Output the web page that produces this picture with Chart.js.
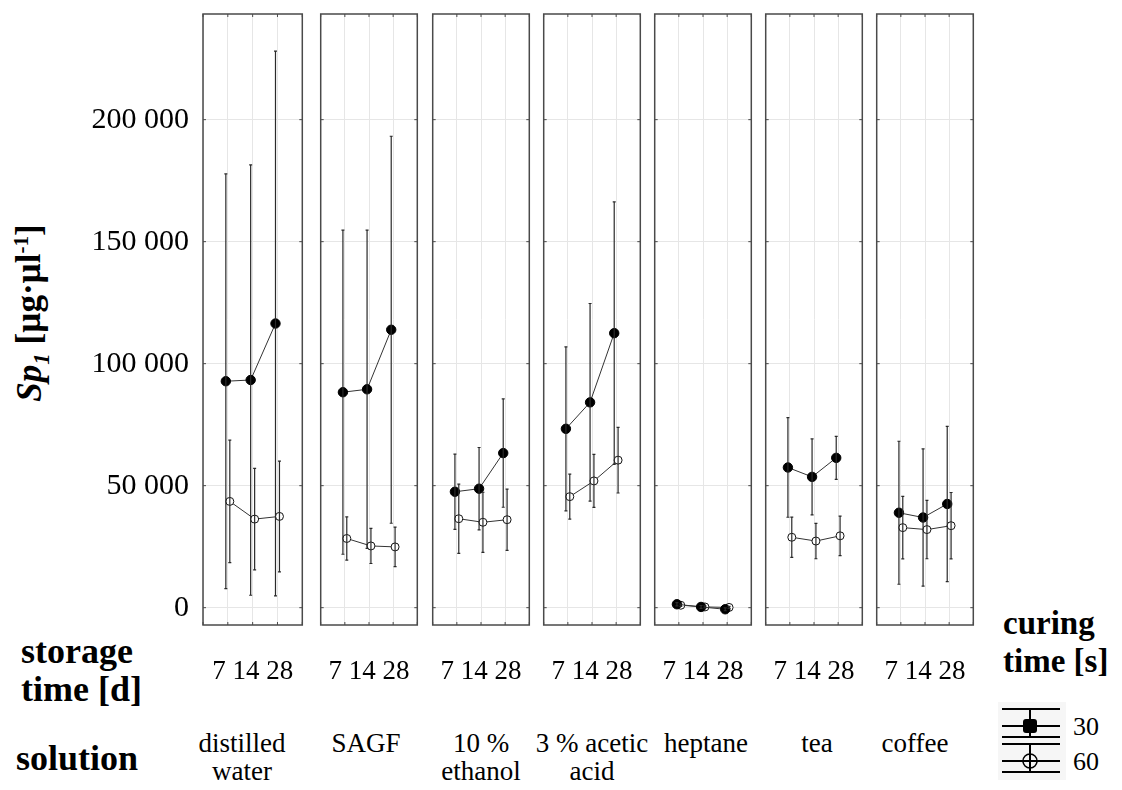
<!DOCTYPE html>
<html>
<head>
<meta charset="utf-8">
<script src="https://cdn.jsdelivr.net/npm/chart.js@4"></script>
<style>
body { margin: 0; background: #fff; width: 1122px; height: 790px; position: relative; overflow: hidden;
       font-family: "Liberation Serif", "Times New Roman", serif; color: #000; }
.abs { position: absolute; white-space: nowrap; }
.bold { font-weight: bold; font-size: 36px; line-height: 38px; }
.sol { font-size: 27px; line-height: 28px; text-align: center; width: 160px; }
canvas { position: absolute; top: 0; }
</style>
</head>
<body>
<div id="ytitle" class="abs bold" style="left:31px;top:313px;transform:translate(-50%,-50%) rotate(-90deg);font-size:35px;">
  <i>Sp<sub style="font-size:23px">1</sub></i> [µg·µl<sup style="font-size:21px">-1</sup>]
</div>
<div class="abs bold" style="left:21px;top:632px;">storage<br>time [d]</div>
<div class="abs bold" style="left:16px;top:739px;">solution</div>
<div class="abs bold" style="left:1003px;top:604px;font-size:33px;line-height:38px;">curing<br>time [s]</div>
<svg id="legend" class="abs" style="left:998px;top:702px" width="120" height="80"></svg>

<script>
// values (Sp1, µg·µl-1)
const storageDays = ['7', '14', '28'];
const solutions = [['distilled', 'water'], ['SAGF'], ['10 %', 'ethanol'], ['3 % acetic', 'acid'], ['heptane'], ['tea'], ['coffee']];
const curingTimes = ['30', '60'];
const yTicks = [0, 50000, 100000, 150000, 200000];

// curing 30 s (filled)
const mean30 = [
    [92800, 93300, 116450],
    [88300, 89500, 113900],
    [47500, 48750, 63350],
    [73300, 84150, 112500],
    [1400, 300, -650],
    [57450, 53600, 61400],
    [38900, 36950, 42500]
];
const err30 = [
    [85000, 88200, 111650],
    [66400, 65200, 79300],
    [15400, 16900, 22200],
    [33600, 40500, 53800],
    [700, 600, 600],
    [20400, 15600, 8800],
    [29300, 28100, 31800]
];
// curing 60 s (open)
const mean60 = [
    [43550, 36300, 37400],
    [28350, 25300, 24900],
    [36450, 35000, 36050],
    [45500, 51950, 60450],
    [1000, 300, 100],
    [28850, 27300, 29450],
    [32800, 32000, 33600]
];
const err60 = [
    [25100, 20800, 22700],
    [8900, 7200, 8100],
    [14200, 12300, 12550],
    [9200, 10850, 13450],
    [500, 400, 400],
    [8250, 7250, 8100],
    [12800, 11950, 13600]
];

// layout
const panelLeft = [203, 318, 430, 541, 652, 763, 874];
const labelShift = [-12, -3, 0, 0, 3, 3, -10];
const PANEL_W = 102, PANEL_TOP = 14, PANEL_BOTTOM = 625, CANVAS_H = 690, AXIS_LEFT = 60;
const Y_MIN = -7100, Y_MAX = 243300;
const SHIFT = 0.08;
const FONT = '"Liberation Serif", "Times New Roman", serif';

const fmt = v => String(v).replace(/\B(?=(\d{3})+(?!\d))/g, ' ');

const frame = {
    id: 'frame',
    beforeDatasetsDraw(chart) {
        const { ctx, chartArea: a, scales: { x, y } } = chart;
        ctx.save();
        ctx.strokeStyle = '#4a4a4a';
        ctx.lineWidth = 1.5;
        ctx.strokeRect(a.left, a.top, a.right - a.left, a.bottom - a.top);
        ctx.lineWidth = 1;
        ctx.beginPath();
        x.ticks.forEach(t => {
            const px = x.getPixelForValue(t.value);
            ctx.moveTo(px, a.top); ctx.lineTo(px, a.top + 3);
            ctx.moveTo(px, a.bottom); ctx.lineTo(px, a.bottom - 3);
        });
        y.ticks.forEach(t => {
            const py = y.getPixelForValue(t.value);
            ctx.moveTo(a.left, py); ctx.lineTo(a.left + 3, py);
            ctx.moveTo(a.right, py); ctx.lineTo(a.right - 3, py);
        });
        ctx.stroke();
        ctx.restore();
    }
};

const errorBars = {
    id: 'errorBars',
    afterDatasetsDraw(chart) {
        const ctx = chart.ctx, y = chart.scales.y;
        ctx.save();
        ctx.strokeStyle = '#2a2a2a';
        ctx.lineWidth = 1.2;
        chart.data.datasets.forEach((ds, d) => {
            chart.getDatasetMeta(d).data.forEach((pt, k) => {
                const m = ds.data[k].y, e = ds.errors[k];
                const top = y.getPixelForValue(m + e), bot = y.getPixelForValue(m - e);
                ctx.beginPath();
                ctx.moveTo(pt.x, top); ctx.lineTo(pt.x, bot);
                ctx.moveTo(pt.x - 1.5, top); ctx.lineTo(pt.x + 1.5, top);
                ctx.moveTo(pt.x - 1.5, bot); ctx.lineTo(pt.x + 1.5, bot);
                ctx.stroke();
            });
        });
        ctx.restore();
    }
};

solutions.forEach((sol, i) => {
    const first = i === 0;
    const left = first ? AXIS_LEFT : panelLeft[i] - 3;
    const canvas = document.createElement('canvas');
    canvas.width = panelLeft[i] + PANEL_W + 3 - left;
    canvas.height = CANVAS_H;
    canvas.style.left = left + 'px';
    document.body.appendChild(canvas);

    const label = document.createElement('div');
    label.className = 'abs sol';
    label.style.left = (panelLeft[i] + PANEL_W / 2 - 80 + labelShift[i]) + 'px';
    label.style.top = '729px';
    label.innerHTML = sol.join('<br>');
    document.body.appendChild(label);

    const pts = (means, shift) => means[i].map((v, k) => ({ x: k + 1 + shift, y: v }));

    new Chart(canvas, {
        type: 'line',
        data: {
            datasets: [{
                label: curingTimes[0],
                data: pts(mean30, -SHIFT),
                errors: err30[i],
                borderColor: '#333',
                borderWidth: 1,
                pointRadius: 4.7,
                pointBackgroundColor: '#000',
                pointBorderColor: '#000'
            }, {
                label: curingTimes[1],
                data: pts(mean60, SHIFT),
                errors: err60[i],
                borderColor: '#333',
                borderWidth: 1,
                pointRadius: 4,
                pointBorderWidth: 1,
                pointBackgroundColor: '#fff',
                pointBorderColor: '#111'
            }]
        },
        options: {
            responsive: false,
            animation: false,
            layout: { padding: { left: first ? 0 : 3, right: 3, top: PANEL_TOP, bottom: 0 } },
            plugins: { legend: { display: false }, tooltip: { enabled: false } },
            scales: {
                x: {
                    type: 'linear',
                    min: 0,
                    max: storageDays.length + 1,
                    afterBuildTicks: s => { s.ticks = [0, ...storageDays.map((_, k) => k + 1), storageDays.length + 1].map(v => ({ value: v })); },
                    afterFit: s => { s.height = CANVAS_H - PANEL_BOTTOM; s.paddingLeft = 0; s.paddingRight = 0; },
                    grid: { color: '#e6e6e6', drawTicks: false },
                    border: { display: false },
                    ticks: { display: false },
                    title: {
                        display: true,
                        text: storageDays.join(' '),
                        color: '#000',
                        font: { family: FONT, size: 27 },
                        padding: { top: 0, bottom: 2 }
                    }
                },
                y: {
                    min: Y_MIN,
                    max: Y_MAX,
                    afterBuildTicks: s => { s.ticks = yTicks.map(v => ({ value: v })); },
                    afterFit: s => {
                        s.width = first ? panelLeft[0] - AXIS_LEFT : 0;
                        s.paddingTop = 0;
                        s.paddingBottom = 0;
                    },
                    grid: { color: '#e6e6e6', drawTicks: false },
                    border: { display: false },
                    ticks: {
                        display: first,
                        padding: 14,
                        color: '#000',
                        font: { family: FONT, size: 30 },
                        callback: v => fmt(v)
                    }
                }
            }
        },
        plugins: [frame, errorBars]
    });
});

// legend key for curing time
const svg = document.getElementById('legend');
let s = '<rect x="0" y="0" width="68" height="78" fill="#f6f6f6"/>';
curingTimes.forEach((t, k) => {
    const y0 = 7 + k * 35, ym = y0 + 17, y1 = y0 + 28;
    s += `<g stroke="#000" stroke-width="2">
      <line x1="4" y1="${y0}" x2="62" y2="${y0}"/>
      <line x1="4" y1="${ym}" x2="62" y2="${ym}"/>
      <line x1="4" y1="${y1}" x2="62" y2="${y1}"/>
      <line x1="32" y1="${y0}" x2="32" y2="${y1}"/></g>`;
    s += k === 0
        ? `<rect x="25" y="${ym - 7}" width="14" height="14" rx="3" fill="#000"/>`
        : `<circle cx="32" cy="${ym}" r="7" fill="none" stroke="#000" stroke-width="1.5"/>`;
    s += `<text x="75" y="${ym + 9}" font-family='${FONT}' font-size="26">${t}</text>`;
});
svg.innerHTML = s;
</script>
</body>
</html>
